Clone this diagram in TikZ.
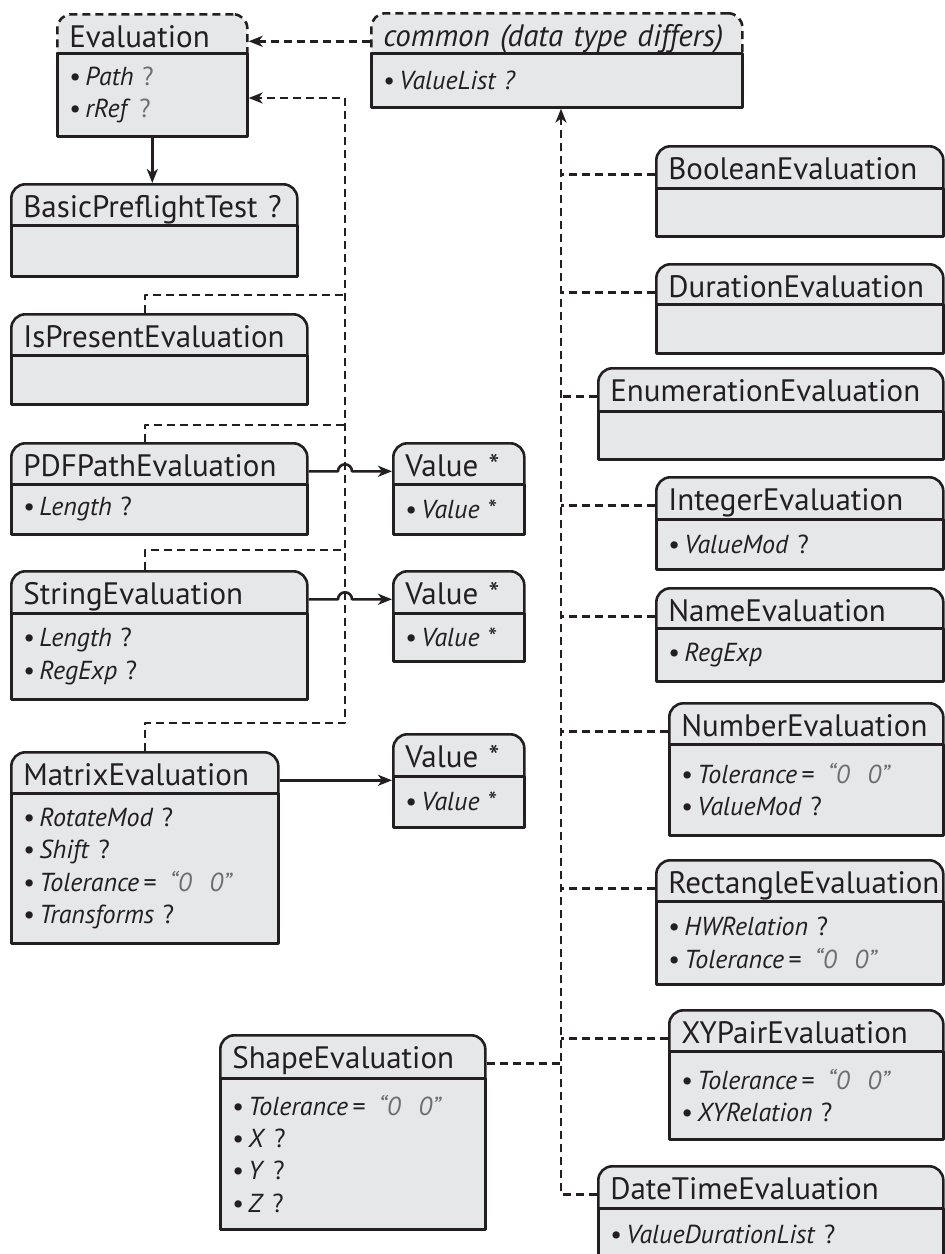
\documentclass[tikz,border=0pt]{standalone}
\usepackage{fontspec}
\setmainfont{PT Sans}
\usetikzlibrary{arrows.meta,calc}
\definecolor{boxgray}{HTML}{E6E7E8}
\definecolor{ink}{HTML}{231F20}
\definecolor{tolgray}{HTML}{6D6E71}
\newcommand\itm[1]{\textbullet\,\textit{#1}}
\newcommand\tolval{\itm{Tolerance}\,=\, \textcolor{tolgray}{\textit{“0\hspace{9pt}0”}}}
\begin{document}
\begin{tikzpicture}[x=0.5pt, y=-0.5pt, line join=round, >={Stealth[length=7pt,width=5.5pt,inset=2pt]},
    hdr/.style={draw=ink, line width=1.3pt, fill=boxgray, rounded corners=7pt, anchor=north west,
        inner xsep=6pt, inner ysep=0pt, text height=16.5pt, text depth=14pt, text width=#1,
        align=left, text=ink, font=\fontsize{15.5}{18}\selectfont},
    body/.style={draw=ink, line width=1.3pt, fill=boxgray, anchor=north west,
        inner xsep=6pt, inner ysep=0pt, text width=#1, align=left, text=ink,
        font=\fontsize{13}{16.2}\selectfont},
    dep/.style={draw=ink, line width=1.35pt, dash pattern=on 4pt off 2.5pt},
    assoc/.style={draw=ink, line width=1.3pt}]
    \useasboundingbox (0,0) rectangle (944,1254);

    % abstract parts on top
    \node[hdr=83pt, dash pattern=on 4pt off 2.5pt] (eval) at (56,13) {Evaluation};
    \node[body=83pt, minimum height=41.5pt] (evalB) at (56,52)
        {\itm{Path} \textcolor{tolgray}{?}\\ \itm{rRef} \textcolor{tolgray}{?}};
    \node[hdr=173.5pt, dash pattern=on 4pt off 2.5pt] (common) at (370,12) {\textit{common (data type differs)}};
    \node[body=173.5pt, minimum height=27pt] (commonB) at (370,52) {\itm{ValueList ?}};

    % left column
    \node[hdr=131pt] (basic) at (10,183) {BasicPreflightTest ?};
    \node[body=131pt, minimum height=25.5pt] (basicB) at (10,224) {};
    \node[hdr=136pt] (ispresent) at (10,313) {IsPresentEvaluation};
    \node[body=136pt, minimum height=24.5pt] (ispresentB) at (10,354) {};
    \node[hdr=136pt] (pdfpath) at (10,442) {PDFPathEvaluation};
    \node[body=136pt, minimum height=25pt] (pdfpathB) at (10,483) {\itm{Length} ?};
    \node[hdr=136pt] (string) at (10,570) {StringEvaluation};
    \node[body=136pt, minimum height=43pt] (stringB) at (10,612) {\itm{Length} ?\\ \itm{RegExp} ?};
    \node[hdr=121.5pt] (matrix) at (10,751) {MatrixEvaluation};
    \node[body=121.5pt, minimum height=75pt] (matrixB) at (10,792)
        {\itm{RotateMod} ?\\ \itm{Shift} ?\\ \tolval\\ \itm{Transforms} ?};

    % value parts
    \node[hdr=53.5pt] (val1) at (392,442) {Value *};
    \node[body=53.5pt, minimum height=25pt] (val1B) at (392,483) {\itm{Value} *};
    \node[hdr=53.5pt] (val2) at (392,570) {Value *};
    \node[body=53.5pt, minimum height=24pt] (val2B) at (392,612) {\itm{Value} *};
    \node[hdr=53.5pt] (val3) at (392,733) {Value *};
    \node[body=53.5pt, minimum height=25.5pt] (val3B) at (392,775) {\itm{Value} *};

    \node[hdr=120.5pt] (shape) at (219,1034) {ShapeEvaluation};
    \node[body=120.5pt, minimum height=75.5pt] (shapeB) at (219,1077)
        {\tolval\\ \itm{X} ?\\ \itm{Y} ?\\ \itm{Z} ?};

    % right column
    \node[hdr=131.5pt] (boolean) at (655,145) {BooleanEvaluation};
    \node[body=131.5pt, minimum height=24pt] (booleanB) at (655,187) {};
    \node[hdr=131.5pt] (duration) at (655,263) {DurationEvaluation};
    \node[body=131.5pt, minimum height=24.5pt] (durationB) at (655,303) {};
    \node[hdr=160.5pt] (enumeration) at (597,367) {EnumerationEvaluation};
    \node[body=160.5pt, minimum height=24pt] (enumerationB) at (597,410) {};
    \node[hdr=131.5pt] (integer) at (655,476) {IntegerEvaluation};
    \node[body=131.5pt, minimum height=25pt] (integerB) at (655,518) {\itm{ValueMod} ?};
    \node[hdr=131.5pt] (name) at (655,587) {NameEvaluation};
    \node[body=131.5pt, minimum height=26.5pt] (nameB) at (655,627) {\itm{RegExp}};
    \node[hdr=125pt] (number) at (668,702) {NumberEvaluation};
    \node[body=125pt, minimum height=45.5pt] (numberB) at (668,743) {\tolval\\ \itm{ValueMod} ?};
    \node[hdr=131.5pt] (rectangle) at (655,859) {RectangleEvaluation};
    \node[body=131.5pt, minimum height=41.5pt] (rectangleB) at (655,900) {\itm{HWRelation} ?\\ \tolval};
    \node[hdr=125pt] (xypair) at (668,1009) {XYPairEvaluation};
    \node[body=125pt, minimum height=44pt] (xypairB) at (668,1050) {\tolval\\ \itm{XYRelation} ?};
    \node[hdr=160.5pt] (datetime) at (597,1165) {DateTimeEvaluation};
    \node[body=160.5pt, minimum height=26pt] (datetimeB) at (597,1207) {\itm{ValueDurationList} ?};

    % connectors
    \coordinate (ltrunk) at (345,98);
    \coordinate (rtrunk) at (561,0);
    \coordinate (j1) at (145,295);
    \coordinate (j2) at (145,425);
    \coordinate (j3) at (145,550);
    \coordinate (j4) at (145,723);

    \draw[dep, ->] (common.mid west) -- (eval.mid east |- common.mid west);
    \draw[assoc, ->] (evalB.south) -- (evalB.south |- basic.north);

    \draw[dep] (j1 |- ispresent.north) -- (j1) -- (j1 -| ltrunk);
    \draw[dep] (j2 |- pdfpath.north) -- (j2) -- (j2 -| ltrunk);
    \draw[dep] (j3 |- string.north) -- (j3) -- (j3 -| ltrunk);
    \draw[dep, ->] (j4 |- matrix.north) -- (j4) -| (ltrunk) -- (evalB.east |- ltrunk);

    \draw[assoc, ->] (pdfpath.mid east) -- ($(pdfpath.mid east -| ltrunk)+(-3.5pt,0)$)
        arc[start angle=180, end angle=0, radius=3.5pt] -- (val1.west |- pdfpath.mid east);
    \draw[assoc, ->] (string.mid east) -- ($(string.mid east -| ltrunk)+(-3.5pt,0)$)
        arc[start angle=180, end angle=0, radius=3.5pt] -- (val2.west |- string.mid east);
    \draw[assoc, ->] (matrix.mid east) -- (val3.west |- matrix.mid east);

    \draw[dep, ->] (datetime.mid west) -| (rtrunk |- commonB.south);
    \draw[dep] (boolean.mid west) -- (rtrunk |- boolean.mid west);
    \draw[dep] (duration.mid west) -- (rtrunk |- duration.mid west);
    \draw[dep] (enumeration.mid west) -- (rtrunk |- enumeration.mid west);
    \draw[dep] (integer.mid west) -- (rtrunk |- integer.mid west);
    \draw[dep] (name.mid west) -- (rtrunk |- name.mid west);
    \draw[dep] (number.mid west) -- (rtrunk |- number.mid west);
    \draw[dep] (rectangle.mid west) -- (rtrunk |- rectangle.mid west);
    \draw[dep] (xypair.mid west) -- (rtrunk |- xypair.mid west);
    \draw[dep] (shape.mid east) -- (rtrunk |- shape.mid east);
\end{tikzpicture}
\end{document}
